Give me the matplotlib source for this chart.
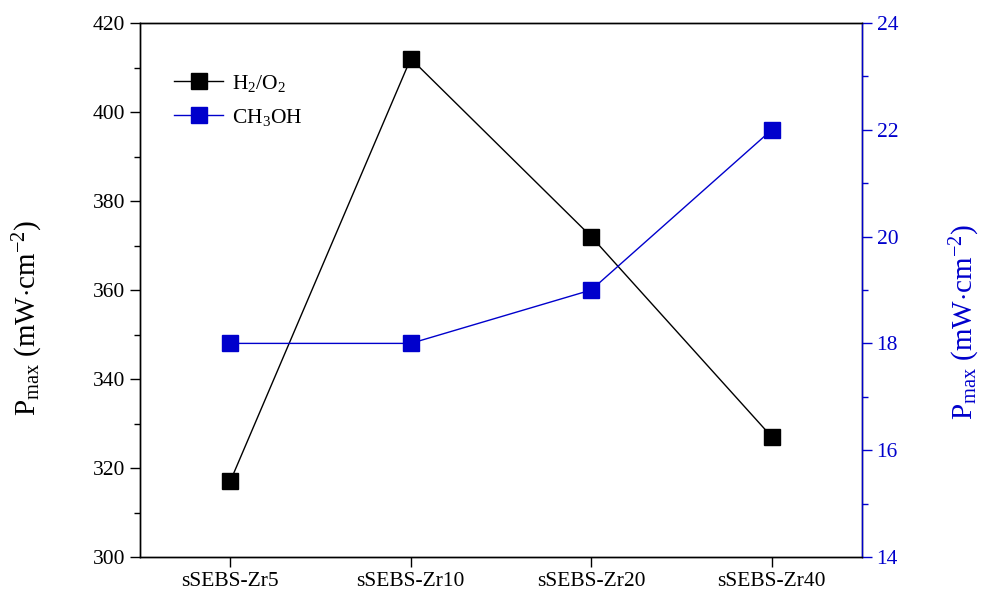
import matplotlib
matplotlib.use("Agg")
import matplotlib.pyplot as plt
from matplotlib.ticker import MultipleLocator

plt.rcParams['font.family'] = ['Liberation Serif', 'DejaVu Serif']
plt.rcParams['mathtext.fontset'] = 'custom'
plt.rcParams['mathtext.rm'] = 'Liberation Serif'
plt.rcParams['mathtext.it'] = 'Liberation Serif'

categories = ["sSEBS-Zr5", "sSEBS-Zr10", "sSEBS-Zr20", "sSEBS-Zr40"]
h2o2 = [317, 412, 372, 327]
ch3oh = [18, 18, 19, 22]
blue = "#0000CC"

fig = plt.figure(figsize=(9.84, 5.96), dpi=100)
ax = fig.add_axes([140/984, 1-557/596, (862-140)/984, (557-23)/596])
x = list(range(len(categories)))
l1, = ax.plot(x, h2o2, color="black", lw=1, marker="s", ms=11, label=r"H$_2$/O$_2$")
ax.set_xlim(-0.5, 3.5)
ax.set_ylim(300, 420)
ax.yaxis.set_major_locator(MultipleLocator(20))
ax.yaxis.set_minor_locator(MultipleLocator(10))
ax.set_xticks(x)
ax.set_xticklabels(categories)
ax.tick_params(axis='both', which='major', direction='out', length=7, width=1, labelsize=15.5)
ax.tick_params(axis='y', which='minor', direction='out', length=4, width=1)
ax.set_ylabel(r"P$_{\rm max}$ (mW$\cdot$cm$^{-2}$)", fontsize=21)
ax.yaxis.set_label_coords(-0.131, 0.447)

ax2 = ax.twinx()
l2, = ax2.plot(x, ch3oh, color=blue, lw=1, marker="s", ms=11, label=r"CH$_3$OH")
ax2.set_ylim(14, 24)
ax2.yaxis.set_major_locator(MultipleLocator(2))
ax2.yaxis.set_minor_locator(MultipleLocator(1))
ax2.tick_params(axis='y', which='major', direction='out', length=7, width=1, labelsize=15.5, colors=blue)
ax2.tick_params(axis='y', which='minor', direction='out', length=4, width=1, colors=blue)
ax2.set_ylabel(r"P$_{\rm max}$ (mW$\cdot$cm$^{-2}$)", fontsize=21, color=blue)
ax2.yaxis.set_label_coords(1.119, 0.44)

for a in (ax, ax2):
    for s in a.spines.values():
        s.set_linewidth(1)
ax2.spines['right'].set_color(blue)

ax.legend(handles=[l1, l2], loc="upper left", bbox_to_anchor=(0.02, 0.943), frameon=False,
          fontsize=15.5, handlelength=2.3, handletextpad=0.4, labelspacing=0.6)

fig.savefig("out.png", dpi=100)
